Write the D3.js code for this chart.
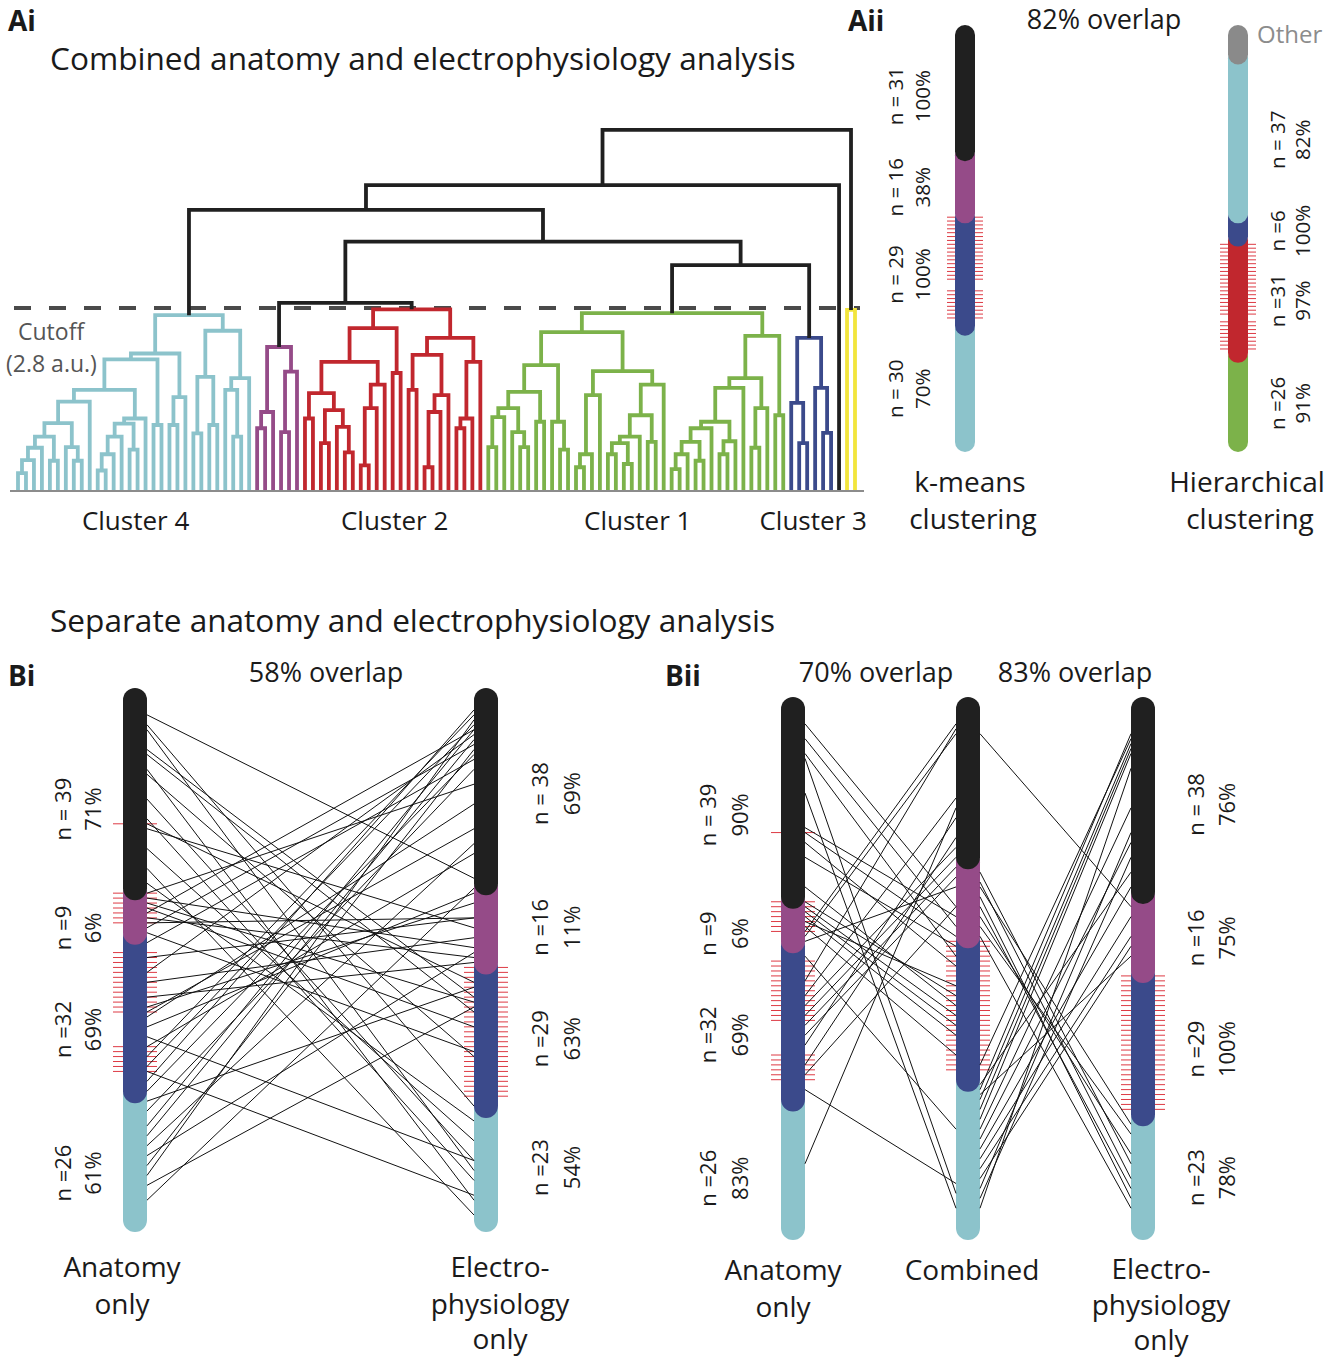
<!DOCTYPE html>
<html><head><meta charset="utf-8">
<script src="https://cdn.jsdelivr.net/npm/d3@7"></script>
<style>body{margin:0;background:#fff}</style>
</head><body>
<svg id="c" width="1339" height="1358"></svg>
<script>
// ---------------- DATA ----------------
const palette = {black:"#202020", purple:"#954b88", blue:"#3b4a8b", cyan:"#8cc3cb", red:"#c1272e", green:"#7cb24a", yellow:"#f2e53c", gray:"#8a8a8a"};

// Dendrogram subtrees: [mergeHeight (a.u.), left, right]; 0 = leaf
const cyanTree = [2.69,
  [2.10,
    [2.01,
      [1.54,
        [1.36,
          [1.03,
            [0.82, [0.65, [0.46, [0.26,0,0], 0], 0], [0.45,0,0]],
            [0.66, 0, [0.45,0,0]]
          ],
          0
        ],
        [1.10,
          [1.02, [0.82, [0.55, [0.30,0,0], 0], 0], [0.62,0,0]],
          0
        ]
      ],
      [1.00,0,0]
    ],
    [1.43, [1.00,0,0], 0]
  ],
  [2.45,
    [1.74, [0.87,0,0], [1.00,0,0]],
    [1.72, [1.54, 0, [0.82,0,0]], 0]
  ]
];
const purpleTree = [2.20, [1.20,[0.95,0,0],0], [1.82,[0.89,0,0],0]];
const redTree = [2.78,
  [2.49,
    [1.97,
      [1.49, [1.10,0,0], [1.23, [0.72,0,0], [0.97, 0, [0.58,0,0]]]],
      [1.62, [1.26, [0.38,0,0], 0], 0]
    ],
    [1.80, 0, 0]
  ],
  [2.34,
    [2.08, [1.54,0,0], [1.46, [1.20,[0.35,0,0],0], 0]],
    [1.97, [1.10,[0.95,0,0],0], 0]
  ]
];
const greenTree = [2.72,
  [2.43,
    [1.92,
      [1.51,
        [1.26, [1.12,[0.66,0,0],0], [0.89,0,[0.66,0,0]]],
        [1.05,0,0]
      ],
      [1.05, 0, [0.62,0,0]]
    ],
    [1.83,
      [1.46, [0.55,[0.35,0,0],0], 0],
      [1.62, [1.15, [0.82, [0.72,[0.55,0,0],[0.40,0,0]], 0], [0.74,0,0]], 0]
    ]
  ],
  [2.37,
    [1.72,
      [1.57,
        [1.05,
          [0.95, [0.74,[0.55,[0.32,0,0],0],[0.45,0,0]], 0],
          [0.75, [0.55,0,0], 0]
        ],
        0
      ],
      [1.26, [0.65,0,0], 0]
    ],
    [1.15, 0, 0]
  ]
];
const blueTree = [2.34, [1.34, 0, [0.72,0,0]], [1.57, 0, [0.88,0,0]]];
const yellowTree = [2.77, 0, 0];
const upperHeights = [5.54, 4.69, 4.31, 3.82, 3.46, 2.88];
const cutoff = 2.8;
const clusterNames = {cyan:"Cluster 4", red:"Cluster 2", green:"Cluster 1", blue:"Cluster 3"};

// Aii bars
const kmeansCells = [31,16,29,30];
const kmeansColors = ["black","purple","blue","cyan"];
const kmeansN = ["n = 31","n = 16","n = 29","n = 30"];
const kmeansPct = ["100%","38%","100%","70%"];
const kmeansHatch = [[47,63],[66,73]];
const hierCells = [6,41,6,30,23];
const hierColors = ["gray","cyan","blue","red","green"];
const hierN = [null,"n = 37","n =6","n =31","n =26"];
const hierPct = [null,"82%","100%","97%","91%"];
const hierHatch = [[54,72],[74,81]];

// B bars
const segColors = ["black","purple","blue","cyan"];
const anatomyCells = [39,9,32,26];
const anatomyN = ["n = 39","n =9","n =32","n =26"];
const anatomyPctBi = ["71%","6%","69%","61%"];
const anatomyPctBii = ["90%","6%","69%","83%"];
const anatomyHatch = [[25,25],[39,45],[51,63],[70,75]];
const electroCells = [38,16,29,23];
const electroN = ["n = 38","n =16","n =29","n =23"];
const electroPctBi = ["69%","11%","63%","54%"];
const electroPctBii = ["76%","75%","100%","78%"];
const electroHatchBi = [[54,80]];
const electroHatchBii = [[54,81]];
const combinedCells = [31,16,29,30];
const combinedHatch = [[47,73]];

// cell-to-cell links [fromIndex, toIndex]
const biLinks = [[3,36],[5,82],[6,95],[10,60],[11,63],[14,101],[15,72],[20,93],[24,97],[25,57],[26,46],[30,89],[34,104],[37,85],
 [39,17],[40,50],[41,61],[42,66],[43,6],[44,52],[45,44],[46,9],[47,71],
 [49,12],[52,44],[55,7],[57,48],[60,53],[62,41],[63,26],[64,21],[66,39],[68,93],[70,31],[72,3],[74,5],[75,100],[77,2],[79,11],
 [81,58],[83,14],[86,6],[88,8],[90,29],[92,51],[94,10],[96,4],[98,62],[101,38]];
const biiLinksAC = [[3,40],[6,44],[9,50],[10,98],[17,101],[24,42],[25,46],[27,52],[30,48],[36,60],
 [39,58],[40,62],[41,64],[42,66],[43,56],[44,70],[45,3],[46,5],[47,36],
 [50,85],[55,4],[58,18],[60,28],[62,30],[64,32],[66,34],[68,22],[72,26],[74,40],[77,96],[92,20]];
const biiLinksCE = [[5,40],[33,92],[35,95],[38,99],[40,97],[42,90],[44,86],[46,101],[36,84],
 [72,6],[77,5],[79,7],[81,8],[83,9],[85,20],[87,27],[89,36],[91,42],[93,46],[95,48],[97,25],[99,30],[76,33],[78,50],[101,12]];

// ---------------- DRAW ----------------
const FONT = '"Open Sans", "Noto Sans", sans-serif';
const svg = d3.select("#c");
function txt(x, y, s, o = {}) {
  return svg.append("text").attr("x", x).attr("y", y).text(s)
    .attr("font-family", FONT).attr("font-size", o.size || 28)
    .attr("font-weight", o.bold ? 700 : 400)
    .attr("fill", o.fill || "#1a1a1a")
    .attr("text-anchor", o.anchor || "start");
}

// Panel labels & titles
txt(8, 31, "Ai", {bold:true, size:28});
txt(848, 31, "Aii", {bold:true, size:28});
txt(8, 686, "Bi", {bold:true, size:28});
txt(665, 686, "Bii", {bold:true, size:28});
txt(50, 70, "Combined anatomy and electrophysiology analysis", {size:31.6});
txt(50, 632, "Separate anatomy and electrophysiology analysis", {size:31.6});

// ---- Dendrogram ----
const C = (cluster, tree) => ({cluster, tree});
const fullTree = [upperHeights[0],
  [upperHeights[1],
    [upperHeights[2], C("cyan", cyanTree),
      [upperHeights[3],
        [upperHeights[5], C("purple", purpleTree), C("red", redTree)],
        [upperHeights[4], C("green", greenTree), C("blue", blueTree)]
      ]
    ],
    0
  ],
  C("yellow", yellowTree)
];
const leafCount = n => n === 0 ? 1 : (Array.isArray(n) ? leafCount(n[1]) + leafCount(n[2]) : leafCount(n.tree));
const nLeaves = leafCount(fullTree);
const xLeaf = d3.scaleLinear().domain([0, nLeaves - 1]).range([18, 855]);
const yH = d3.scaleLinear().domain([0, cutoff]).range([490, 308]);
let li = 0; const segs = []; const clusterExt = {};
function lay(node, color) {
  if (node === 0) { const x = xLeaf(li++); return {x, y: yH(0), leaves: [x]}; }
  if (!Array.isArray(node)) {
    const r = lay(node.tree, node.cluster);
    clusterExt[node.cluster] = d3.extent(r.leaves);
    return r;
  }
  const [h, a, b] = node;
  const A = lay(a, color), B = lay(b, color), yy = yH(h);
  segs.push({color, pts: [[A.x, A.y], [A.x, yy], [B.x, yy], [B.x, B.y]]});
  return {x: (A.x + B.x) / 2, y: yy, leaves: A.leaves.concat(B.leaves)};
}
lay(fullTree, "black");

const dg = svg.append("g");
dg.append("line").attr("x1", 14).attr("x2", 860).attr("y1", yH(cutoff)).attr("y2", yH(cutoff))
  .attr("stroke", "#4a4a4a").attr("stroke-width", 4).attr("stroke-dasharray", "17,18");
dg.selectAll("path.seg").data(segs).join("path").attr("class", "seg")
  .attr("d", d => d3.line()(d.pts)).attr("fill", "none")
  .attr("stroke", d => palette[d.color]).attr("stroke-width", 3.8)
  .attr("stroke-linejoin", "miter");
dg.append("line").attr("x1", 10).attr("x2", 864).attr("y1", yH(0) + 1).attr("y2", yH(0) + 1)
  .attr("stroke", "#8c8c8c").attr("stroke-width", 2);
Object.keys(clusterNames).forEach(k => {
  const [a, b] = clusterExt[k];
  txt((a + b) / 2 + 2, 530, clusterNames[k], {size: 26, anchor: "middle"});
});
txt(18, 340, "Cutoff", {size: 23, fill: "#555"});
txt(6, 372, "(2.8 a.u.)", {size: 23, fill: "#555"});

// ---- Bars ----
function rtext(x, y, s, size) {
  svg.append("text").attr("transform", `translate(${x},${y}) rotate(-90)`)
    .attr("text-anchor", "middle").attr("font-family", FONT).attr("font-size", size)
    .attr("fill", "#1a1a1a").text(s);
}
function drawBar(cfg) {
  const {cx, top, bottom, w, cells, colors, hatch, ext, nText, pctText, nOff, pctOff, dy, size} = cfg;
  const n = d3.sum(cells);
  const yC = d3.scaleLinear().domain([0, n - 1]).range([top + w / 2, bottom - w / 2]);
  const g = svg.append("g");
  hatch.forEach(([a, b]) => d3.range(a, b + 1).forEach(i => {
    g.append("line").attr("x1", cx - w / 2 - ext).attr("x2", cx + w / 2 + ext)
      .attr("y1", yC(i)).attr("y2", yC(i)).attr("stroke", "#dd3a44").attr("stroke-width", 1);
  }));
  const starts = [0, ...d3.cumsum(cells)];
  for (let k = cells.length - 1; k >= 0; k--) {
    g.append("line").attr("x1", cx).attr("x2", cx)
      .attr("y1", yC(starts[k])).attr("y2", yC(starts[k + 1] - 1))
      .attr("stroke", palette[colors[k]]).attr("stroke-width", w).attr("stroke-linecap", "round");
  }
  cells.forEach((c, k) => {
    const yc = (yC(starts[k]) + yC(starts[k + 1] - 1)) / 2 + dy;
    if (nText[k]) rtext(cx + nOff, yc, nText[k], size);
    if (pctText[k]) rtext(cx + pctOff, yc, pctText[k], size);
  });
  return {yC, cx, w};
}

// Aii
const km = drawBar({cx: 965, top: 25, bottom: 452, w: 20, cells: kmeansCells, colors: kmeansColors, hatch: kmeansHatch, ext: 8,
  nText: kmeansN, pctText: kmeansPct, nOff: -62, pctOff: -35, dy: 3, size: 20.5});
const hi = drawBar({cx: 1238, top: 25, bottom: 452, w: 20, cells: hierCells, colors: hierColors, hatch: hierHatch, ext: 8,
  nText: hierN, pctText: hierPct, nOff: 47, pctOff: 72, dy: 4, size: 20.5});
txt(1257, 43, "Other", {size: 24, fill: "#8c8c8c"});
txt(1104, 29, "82% overlap", {size: 27, anchor: "middle"});
txt(970, 492, "k-means", {size: 28, anchor: "middle"});
txt(973, 529, "clustering", {size: 28, anchor: "middle"});
txt(1247, 492, "Hierarchical", {size: 28, anchor: "middle"});
txt(1250, 529, "clustering", {size: 28, anchor: "middle"});

// links helper
function links(A, B, pairs) {
  const g = svg.append("g");
  pairs.forEach(([i, j]) => {
    g.append("line").attr("x1", A.cx + A.w / 2).attr("y1", A.yC(i))
      .attr("x2", B.cx - B.w / 2).attr("y2", B.yC(j))
      .attr("stroke", "#111").attr("stroke-width", 1);
  });
}

// Bi
const biA = drawBar({cx: 135, top: 688, bottom: 1232, w: 24, cells: anatomyCells, colors: segColors, hatch: anatomyHatch, ext: 10,
  nText: anatomyN, pctText: anatomyPctBi, nOff: -64, pctOff: -34, dy: 15, size: 22});
const biE = drawBar({cx: 486, top: 688, bottom: 1232, w: 24, cells: electroCells, colors: segColors, hatch: electroHatchBi, ext: 10,
  nText: electroN, pctText: electroPctBi, nOff: 62, pctOff: 94, dy: 2, size: 22});
links(biA, biE, biLinks);
txt(326, 682, "58% overlap", {size: 27, anchor: "middle"});
txt(122, 1277, "Anatomy", {size: 28, anchor: "middle"});
txt(122, 1314, "only", {size: 28, anchor: "middle"});
txt(500, 1277, "Electro-", {size: 28, anchor: "middle"});
txt(500, 1314, "physiology", {size: 28, anchor: "middle"});
txt(500, 1349, "only", {size: 28, anchor: "middle"});

// Bii
const bA = drawBar({cx: 793, top: 697, bottom: 1240, w: 24, cells: anatomyCells, colors: segColors, hatch: anatomyHatch, ext: 10,
  nText: anatomyN, pctText: anatomyPctBii, nOff: -77, pctOff: -45, dy: 12, size: 22});
const bC = drawBar({cx: 968, top: 697, bottom: 1240, w: 24, cells: combinedCells, colors: segColors, hatch: combinedHatch, ext: 10,
  nText: [], pctText: [], nOff: 0, pctOff: 0, dy: 0, size: 22});
const bE = drawBar({cx: 1143, top: 697, bottom: 1240, w: 24, cells: electroCells, colors: segColors, hatch: electroHatchBii, ext: 10,
  nText: electroN, pctText: electroPctBii, nOff: 61, pctOff: 92, dy: 4, size: 22});
links(bA, bC, biiLinksAC);
links(bC, bE, biiLinksCE);
txt(876, 682, "70% overlap", {size: 27, anchor: "middle"});
txt(1075, 682, "83% overlap", {size: 27, anchor: "middle"});
txt(783, 1280, "Anatomy", {size: 28, anchor: "middle"});
txt(783, 1317, "only", {size: 28, anchor: "middle"});
txt(972, 1280, "Combined", {size: 28, anchor: "middle"});
txt(1161, 1279, "Electro-", {size: 28, anchor: "middle"});
txt(1161, 1315, "physiology", {size: 28, anchor: "middle"});
txt(1161, 1350, "only", {size: 28, anchor: "middle"});
</script>
</body></html>
